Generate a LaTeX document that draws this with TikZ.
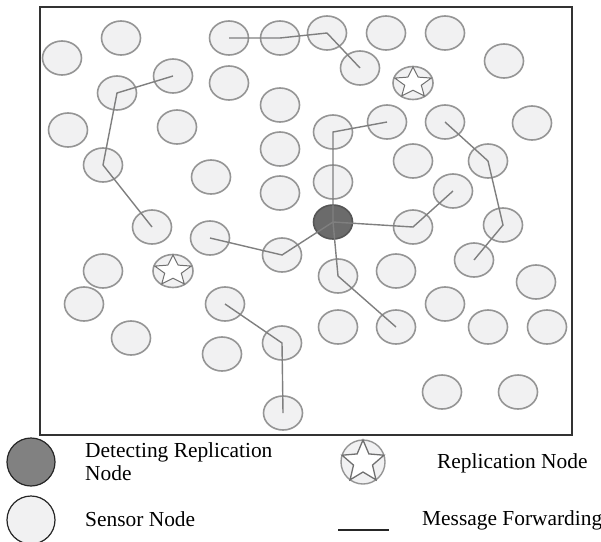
\documentclass[tikz,border=0pt]{standalone}
\usepackage{tikz}
\usepackage{fontspec}
\setmainfont{Liberation Serif}
\usetikzlibrary{shapes.geometric}
\definecolor{sensorfill}{HTML}{F1F1F2}
\definecolor{sensorline}{HTML}{959595}
\definecolor{detectfill}{HTML}{6B6B6B}
\definecolor{forwardline}{HTML}{7F7F7F}

\begin{document}
\begin{tikzpicture}[x=1pt,y=-1pt,
		sensor/.style={draw=sensorline,fill=sensorfill,ellipse,line width=1.6,minimum width=39,minimum height=34,inner sep=0pt},
		detect/.style={sensor,draw=detectfill!80!black,fill=detectfill},
		replic/.style={sensor,minimum width=40,minimum height=33},
		starmark/.style={draw=sensorline!75!black,fill=white,star,star points=5,star point ratio=2.2,line width=1,minimum size=32,inner sep=0pt},
		forward/.style={draw=forwardline,line width=1.4},
		legtext/.style={font=\fontsize{21.4}{23}\selectfont,inner sep=0pt,align=left}]
			\useasboundingbox (0,0) rectangle (601,541);
			\draw[line width=2,black!80] (40,7) rectangle (572,435);

			% sensor field
			\node[sensor] (n1) at (62,58) {};
			\node[sensor] (n2) at (121,38) {};
			\node[sensor] (n3) at (229,38) {};
			\node[sensor] (n4) at (280,38) {};
			\node[sensor] (n5) at (327,33) {};
			\node[sensor] (n6) at (386,33) {};
			\node[sensor] (n7) at (445,33) {};
			\node[sensor] (n8) at (173,76) {};
			\node[sensor] (n9) at (117,93) {};
			\node[sensor] (n10) at (229,83) {};
			\node[sensor] (n11) at (360,68) {};
			\node[sensor] (n12) at (504,61) {};
			\node[sensor] (n13) at (68,130) {};
			\node[sensor] (n14) at (177,127) {};
			\node[sensor] (n15) at (280,105) {};
			\node[sensor] (n16) at (280,149) {};
			\node[sensor] (n17) at (333,132) {};
			\node[sensor] (n18) at (387,122) {};
			\node[sensor] (n19) at (445,122) {};
			\node[sensor] (n20) at (532,123) {};
			\node[sensor] (n21) at (103,165) {};
			\node[sensor] (n22) at (211,177) {};
			\node[sensor] (n23) at (280,193) {};
			\node[sensor] (n24) at (333,182) {};
			\node[sensor] (n25) at (413,161) {};
			\node[sensor] (n26) at (488,161) {};
			\node[sensor] (n27) at (453,191) {};
			\node[sensor] (n28) at (152,227) {};
			\node[sensor] (n29) at (210,238) {};
			\node[sensor] (n30) at (282,255) {};
			\node[sensor] (n31) at (413,227) {};
			\node[sensor] (n32) at (503,225) {};
			\node[sensor] (n33) at (103,271) {};
			\node[sensor] (n34) at (338,276) {};
			\node[sensor] (n35) at (396,271) {};
			\node[sensor] (n36) at (474,260) {};
			\node[sensor] (n37) at (536,282) {};
			\node[sensor] (n38) at (84,304) {};
			\node[sensor] (n39) at (225,304) {};
			\node[sensor] (n40) at (445,304) {};
			\node[sensor] (n41) at (131,338) {};
			\node[sensor] (n42) at (222,354) {};
			\node[sensor] (n43) at (282,343) {};
			\node[sensor] (n44) at (338,327) {};
			\node[sensor] (n45) at (396,327) {};
			\node[sensor] (n46) at (488,327) {};
			\node[sensor] (n47) at (547,327) {};
			\node[sensor] (n48) at (442,392) {};
			\node[sensor] (n49) at (518,392) {};
			\node[sensor] (n50) at (283,413) {};
			\node[detect] (det) at (333,222) {};

			% replicas
			\node[replic] (rep1) at (413,83) {};
			\node[starmark,transform shape,xscale=1.2] at (rep1) {};
			\node[replic] (rep2) at (173,271) {};
			\node[starmark,transform shape,xscale=1.2] at (rep2) {};

			% forwarding paths
			\draw[forward] (n3.center) -- (n4.center) -- (n5.center) -- (n11.center);
			\draw[forward] (n8.center) -- (n9.center) -- (n21.center) -- (n28.center);
			\draw[forward] (n18.center) -- (n17.center) -- (n24.center) -- (det.center);
			\draw[forward] (n19.center) -- (n26.center) -- (n32.center) -- (n36.center);
			\draw[forward] (det.center) -- (n31.center) -- (n27.center);
			\draw[forward] (n29.center) -- (n30.center) -- (det.center);
			\draw[forward] (det.center) -- (n34.center) -- (n45.center);
			\draw[forward] (n39.center) -- (n43.center) -- (n50.center);

			% legend
			\node[circle,draw=black!85,fill=detectfill!85!white,line width=1.2,minimum size=48,inner sep=0pt] (keydet) at (31,462) {};
			\node[legtext,anchor=base west] (txtdet) at (85,480) {Detecting Replication\\Node};
			\node[circle,draw=black!85,fill=sensorfill,line width=1.2,minimum size=48,inner sep=0pt] (keysen) at (31,520) {};
			\node[legtext,anchor=base west] (txtsen) at (85,526) {Sensor Node};
			\node[circle,draw=sensorline,fill=sensorfill,line width=1.4,minimum size=44,inner sep=0pt] (keyrep) at (363,462) {};
			\node[starmark,minimum size=44,line width=1.3] at (keyrep) {};
			\node[legtext,anchor=base west] (txtrep) at (437,468) {Replication Node};
			\coordinate (keyfw1) at (338,530);
			\coordinate (keyfw2) at (389,530);
			\draw[line width=2,black!85] (keyfw1) -- (keyfw2);
			\node[legtext,anchor=base west] (txtfw) at (422,525) {Message Forwarding};
		\end{tikzpicture}
\end{document}
